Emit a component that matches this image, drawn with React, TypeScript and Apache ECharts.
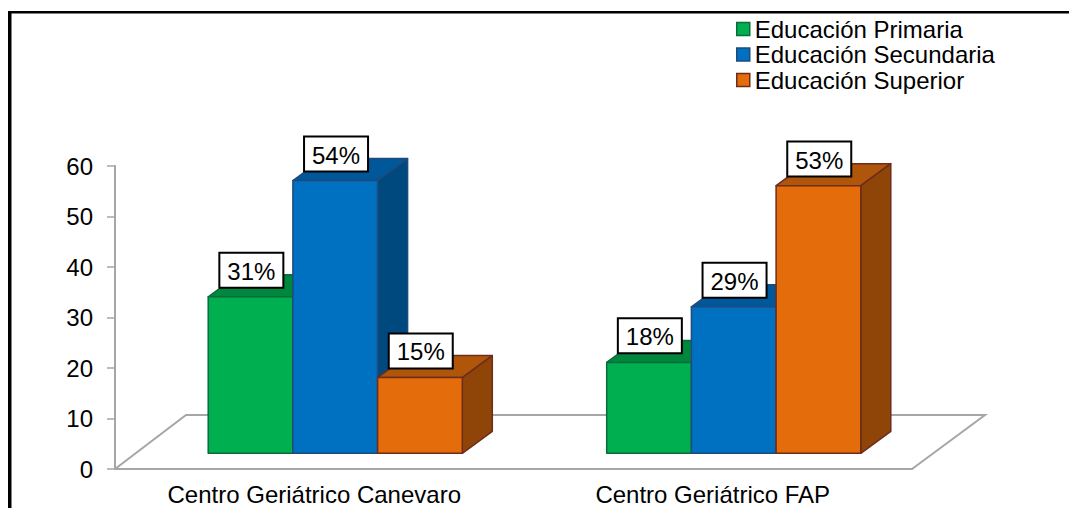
import React, { useEffect, useRef } from "react";
import * as echarts from "echarts";

const categories = ["Centro Geriátrico Canevaro", "Centro Geriátrico FAP"];
const seriesNames = ["Educación Primaria", "Educación Secundaria", "Educación Superior"];
const primaria = [31, 18];
const secundaria = [54, 29];
const superior = [15, 53];
const yTicks = { min: 0, max: 60, interval: 10 };

const FONT = '"Liberation Sans", Arial, sans-serif';
const TEXT_SIZE = 24;
const AXIS_GREY = "#a6a6a6";

const palette = [
  { front: "#00b050", top: "#00873d", side: "#006f33", edge: "#0b6b3a" },
  { front: "#0070c0", top: "#00589a", side: "#00497f", edge: "#1f4a7d" },
  { front: "#e46c0a", top: "#b0560a", side: "#8f4507", edge: "#6e2c1c" },
];

// Projection of the pseudo-3D scene, in pixels.
const FLOOR_DX = 71;
const FLOOR_DY = 54;
const BAR_DX = 30;
const BAR_DY = 22;
const BAR_WIDTH = 84.7;
const BAR_LIFT = 15.7;
const GROUP_SHIFT = 21;

function barRenderer(seriesIndex: number) {
  const c = palette[seriesIndex];
  return (_params: any, api: any) => {
    const cat = api.value(0);
    const value = api.value(1);
    const [cx, top0] = api.coord([cat, value]);
    const [, base0] = api.coord([cat, 0]);
    const top = top0 - BAR_LIFT;
    const base = base0 - BAR_LIFT;
    const x0 = cx + GROUP_SHIFT + (seriesIndex - 1.5) * BAR_WIDTH;
    const x1 = x0 + BAR_WIDTH;
    const edge = { stroke: c.edge, lineWidth: 1.5, lineJoin: "round" };
    const boxW = 64;
    const boxH = 35;
    const boxX = x0 + BAR_WIDTH / 2 + 0.8 - boxW / 2;
    const boxCy = top - 26.6;
    return {
      type: "group",
      children: [
        {
          type: "polygon",
          shape: { points: [[x0, top], [x0 + BAR_DX, top - BAR_DY], [x1 + BAR_DX, top - BAR_DY], [x1, top]] },
          style: { fill: c.top, ...edge },
        },
        {
          type: "polygon",
          shape: { points: [[x1, top], [x1 + BAR_DX, top - BAR_DY], [x1 + BAR_DX, base - BAR_DY], [x1, base]] },
          style: { fill: c.side, ...edge },
        },
        {
          type: "rect",
          shape: { x: x0, y: top, width: BAR_WIDTH, height: base - top },
          style: { fill: c.front, ...edge },
        },
        {
          type: "rect",
          z2: 10,
          shape: { x: boxX, y: boxCy - boxH / 2, width: boxW, height: boxH },
          style: { fill: "#ffffff", stroke: "#000000", lineWidth: 2 },
        },
        {
          type: "text",
          z2: 11,
          style: {
            text: `${value}%`,
            x: boxX + boxW / 2,
            y: boxCy + 1,
            align: "center",
            verticalAlign: "middle",
            fontSize: TEXT_SIZE,
            fontFamily: FONT,
            fill: "#000000",
          },
        },
      ],
    };
  };
}

// Floor parallelogram behind the bars; its front edge is the category axis.
function floorRenderer(params: any, api: any) {
  const { x, y, width, height } = params.coordSys;
  const frontY = y + height;
  return {
    type: "polyline",
    shape: {
      points: [
        [x, frontY],
        [x + FLOOR_DX, frontY - FLOOR_DY],
        [x + width + FLOOR_DX + 2, frontY - FLOOR_DY],
        [x + width, frontY],
      ],
    },
    style: { fill: "none", stroke: AXIS_GREY, lineWidth: 2 },
  };
}

function makeOption() {
  const values = [primaria, secundaria, superior];
  return {
    animation: false,
    backgroundColor: "#ffffff",
    grid: { left: 115, top: 166, width: 797, height: 303, outerBoundsMode: "none" },
    legend: {
      orient: "vertical",
      left: 731,
      top: 12,
      itemWidth: 13,
      itemHeight: 13,
      itemGap: 1.5,
      icon: "rect",
      selectedMode: false,
      textStyle: { fontSize: TEXT_SIZE, fontFamily: FONT, color: "#000000", padding: [0, 0, 0, 0] },
      data: seriesNames.map((name, i) => ({
        name,
        itemStyle: { color: palette[i].front, borderColor: palette[i].edge, borderWidth: 1.5 },
      })),
    },
    xAxis: {
      type: "category",
      data: categories,
      axisLine: { lineStyle: { color: AXIS_GREY, width: 2 } },
      axisTick: { length: 7, lineStyle: { color: AXIS_GREY, width: 1.5 } },
      axisLabel: { fontSize: TEXT_SIZE, lineHeight: 20, fontFamily: FONT, color: "#000000", margin: 15 },
    },
    yAxis: {
      type: "value",
      min: yTicks.min,
      max: yTicks.max,
      interval: yTicks.interval,
      splitLine: { show: false },
      axisLine: { show: true, lineStyle: { color: AXIS_GREY, width: 2 } },
      axisTick: { show: true, length: 8, lineStyle: { color: AXIS_GREY, width: 1.5 } },
      axisLabel: { fontSize: TEXT_SIZE, fontFamily: FONT, color: "#000000", margin: 22 },
    },
    graphic: [
      { type: "rect", shape: { x: 8, y: 11, width: 3.5, height: 497 }, style: { fill: "#000000" } },
      { type: "rect", shape: { x: 8, y: 11, width: 1061, height: 2.5 }, style: { fill: "#000000" } },
    ],
    series: [
      {
        type: "custom",
        name: "floor",
        silent: true,
        renderItem: floorRenderer,
        data: [[0, 0]],
        encode: { x: 0, y: 1 },
        z: 1,
      },
      ...seriesNames.map((name, i) => ({
        type: "custom",
        name,
        renderItem: barRenderer(i),
        data: values[i].map((v, c) => [c, v]),
        encode: { x: 0, y: 1 },
        itemStyle: { color: palette[i].front },
        z: 2 + i,
      })),
    ],
  };
}

export default function App() {
  const ref = useRef<HTMLDivElement>(null);
  useEffect(() => {
    document.body.style.margin = "0";
    const chart = echarts.init(ref.current!, undefined, { renderer: "svg" });
    chart.setOption(makeOption() as any);
    return () => chart.dispose();
  }, []);
  return <div ref={ref} style={{ width: 1069, height: 508, overflow: "hidden" }} />;
}
